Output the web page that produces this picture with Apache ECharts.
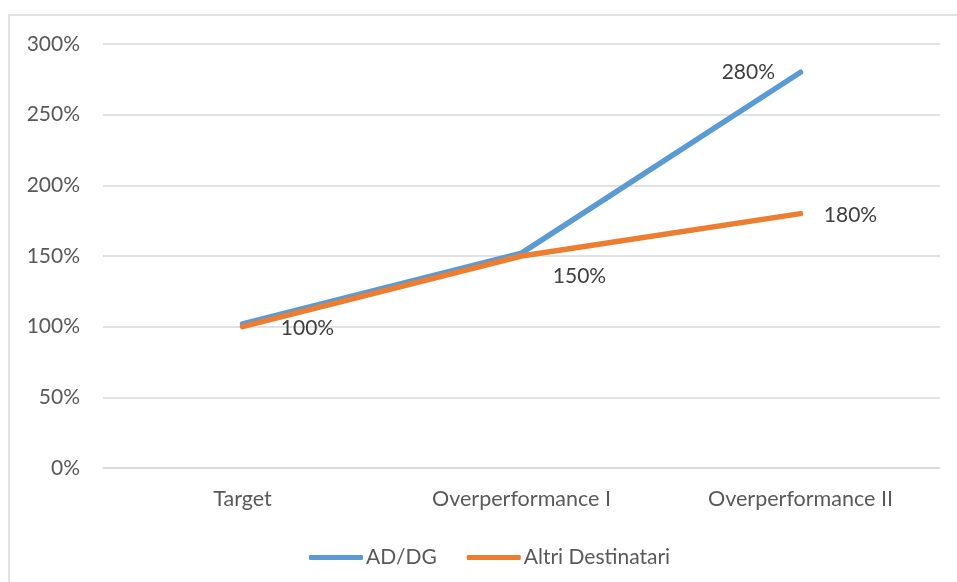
<!DOCTYPE html>
<html>
<head>
<meta charset="utf-8">
<script src="https://cdn.jsdelivr.net/npm/echarts@6/dist/echarts.min.js"></script>
<style>html,body{margin:0;padding:0;background:#fff}#c{width:957px;height:582px}</style>
</head>
<body>
<div id="c"></div>
<script>
var categories = ['Target', 'Overperformance I', 'Overperformance II'];
var adDgValues = [1.02, 1.52, 2.8];
var altriValues = [1.00, 1.50, 1.80];
var yTicks = [0, 0.5, 1, 1.5, 2, 2.5, 3];

var font = 'Lato, "Open Sans", sans-serif';
function pct(v){ return Math.round(v*100) + '%'; }
var clear = 'rgba(0,0,0,0)';

var chart = echarts.init(document.getElementById('c'));
chart.setOption({
  animation: false,
  backgroundColor: '#fff',
  graphic: [{
    type: 'rect', silent: true, z: -10,
    shape: { x: 9, y: 15, width: 1000, height: 700 },
    style: { fill: 'none', stroke: '#d9d9d9', lineWidth: 1.5 }
  }],
  grid: { left: 103, right: 17, top: 44, bottom: 114, containLabel: false },
  legend: {
    top: 542, left: 304,
    itemWidth: 54, itemHeight: 5, itemGap: 30,
    icon: 'roundRect',
    textStyle: { fontFamily: font, fontSize: 21, color: '#595959', padding: [0,0,0,-2] },
    data: ['AD/DG', 'Altri Destinatari']
  },
  xAxis: {
    type: 'category', data: categories, boundaryGap: true,
    axisLine: { show: true, lineStyle: { color: '#d9d9d9', width: 1.5 } },
    axisTick: { show: false },
    axisLabel: { fontFamily: font, fontSize: 21.5, color: '#595959', margin: 20 }
  },
  yAxis: {
    type: 'value', min: yTicks[0], max: yTicks[yTicks.length-1], interval: 0.5,
    axisLine: { show: false }, axisTick: { show: false },
    splitLine: { lineStyle: { color: '#d9d9d9', width: 1.5 } },
    axisLabel: { fontFamily: font, fontSize: 21, color: '#595959', margin: 23, formatter: pct }
  },
  series: [
    {
      name: 'AD/DG', type: 'line', data: adDgValues,
      symbol: 'none', color: '#5B9BD5',
      lineStyle: { width: 5.5, color: '#5B9BD5', cap: 'round', join: 'round' },
      z: 2
    },
    {
      name: 'Altri Destinatari', type: 'line', data: altriValues,
      symbol: 'none', color: '#ED7D31',
      lineStyle: { width: 5.5, color: '#ED7D31', cap: 'round', join: 'round' },
      z: 3
    },
    {
      name: 'labelsBlue', type: 'line', data: ['-', '-', adDgValues[2]],
      symbol: 'circle', symbolSize: 2, showSymbol: true,
      itemStyle: { color: clear, borderColor: clear }, lineStyle: { width: 0, color: clear },
      silent: true,
      label: { show: true, position: 'left', distance: 24, fontFamily: font, fontSize: 21, color: '#404040', formatter: function(p){ return pct(p.value); } },
      z: 5
    },
    {
      name: 'labelsOrange', type: 'line', data: altriValues,
      symbol: 'circle', symbolSize: 2, showSymbol: true,
      itemStyle: { color: clear, borderColor: clear }, lineStyle: { width: 0, color: clear },
      silent: true,
      label: {
        show: true, position: 'inside', fontFamily: font, fontSize: 21, color: '#404040',
        formatter: function(p){ return pct(p.value); }
      },
      labelLayout: function(p){
        var offs = [[65, 2], [58, 20], [50, 2]];
        var o = offs[p.dataIndex];
        return { dx: o[0], dy: o[1] };
      },
      z: 5
    }
  ]
});
</script>
</body>
</html>
